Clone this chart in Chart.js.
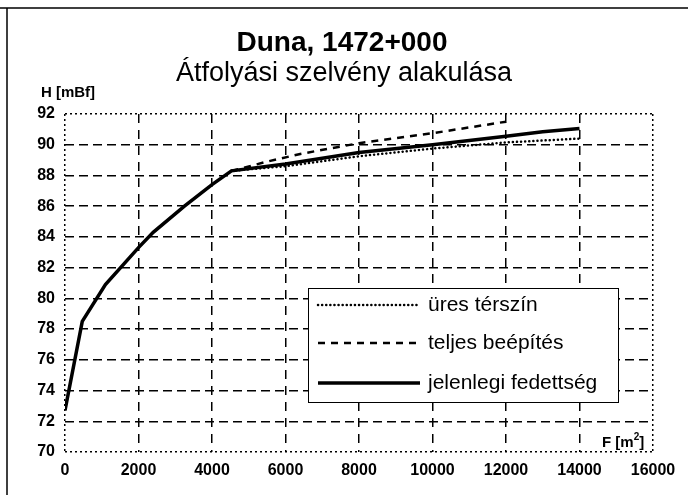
<!DOCTYPE html>
<html>
<head>
<meta charset="utf-8">
<script src="https://cdn.jsdelivr.net/npm/chart.js@4/dist/chart.umd.min.js"></script>
<style>
  html, body { margin: 0; padding: 0; background: #fff; }
  #wrap { position: relative; width: 688px; height: 495px; }
</style>
</head>
<body>
<div id="wrap"><canvas id="graf" width="688" height="495"></canvas></div>
<script>
// Adatok (F [m2] -> H [mBf])
const fJelenlegi = [0, 470, 1100, 2000, 2400, 3250, 4000, 4530, 6000, 8000, 10000, 12000, 13000, 14000]
const hJelenlegi = [72.7, 78.5, 80.9, 83.3, 84.3, 86.0, 87.4, 88.3, 88.75, 89.5, 90.0, 90.55, 90.85, 91.05]
const fUres = [4530, 6000, 8000, 10000, 12000, 14000]
const hUres = [88.3, 88.6, 89.25, 89.75, 90.15, 90.4]
const fTeljes = [4530, 5500, 6400, 8000, 10000, 12000]
const hTeljes = [88.3, 88.9, 89.4, 90.1, 90.75, 91.5]
const sorozatNevek = ["üres térszín", "teljes beépítés", "jelenlegi fedettség"]
const xTicks = [0, 2000, 4000, 6000, 8000, 10000, 12000, 14000, 16000]
const yTicks = [70, 72, 74, 76, 78, 80, 82, 84, 86, 88, 90, 92]

const FONT = "'Liberation Sans', Arial, sans-serif"

function pontok(xs, ys) {
    return xs.map((x, i) => ({ x: x, y: ys[i] }))
}

// Cimek, tengelyfeliratok, keret es jelmagyarazat
const rajzolo = {
    id: "rajzolo",
    afterDraw(chart) {
        const ctx = chart.ctx
        ctx.save()
        ctx.strokeStyle = "#000"
        ctx.lineWidth = 1.5
        ctx.beginPath()
        ctx.moveTo(0, 8); ctx.lineTo(688, 8)
        ctx.moveTo(7, 8); ctx.lineTo(7, 495)
        ctx.stroke()

        ctx.fillStyle = "#000"
        ctx.textAlign = "center"
        ctx.textBaseline = "middle"
        ctx.font = "bold 28px " + FONT
        ctx.fillText("Duna, 1472+000", 342, 43)
        ctx.font = "27px " + FONT
        ctx.fillText("Átfolyási szelvény alakulása", 344, 74)

        ctx.font = "bold 15px " + FONT
        ctx.fillText("H [mBf]", 68, 93)

        ctx.textAlign = "left"
        ctx.fillText("F [m", 602, 443)
        let w = ctx.measureText("F [m").width
        ctx.font = "bold 10px " + FONT
        ctx.fillText("2", 602 + w, 437)
        let w2 = ctx.measureText("2").width
        ctx.font = "bold 15px " + FONT
        ctx.fillText("]", 602 + w + w2, 443)

        // jelmagyarazat
        const lx = 308, ly = 288, lw = 310, lh = 114
        ctx.fillStyle = "#fff"
        ctx.fillRect(lx, ly, lw, lh)
        ctx.lineWidth = 1
        ctx.setLineDash([])
        ctx.strokeRect(lx + 0.5, ly + 0.5, lw, lh)
        const sorY = [305, 343, 383]
        chart.data.datasets.forEach((ds, i) => {
            ctx.save()
            ctx.strokeStyle = "#000"
            ctx.lineWidth = ds.borderWidth
            ctx.lineCap = ds.borderCapStyle || "butt"
            ctx.setLineDash(ds.borderDash || [])
            ctx.beginPath()
            ctx.moveTo(318, sorY[i])
            ctx.lineTo(420, sorY[i])
            ctx.stroke()
            ctx.restore()
            ctx.fillStyle = "#000"
            ctx.font = "21px " + FONT
            ctx.textBaseline = "middle"
            ctx.fillText(ds.label, 428, sorY[i])
        })
        ctx.restore()
    }
}

const config = {
    type: "line",
    data: {
        datasets: [{
            label: sorozatNevek[0],
            data: pontok(fUres, hUres),
            borderColor: "#000",
            borderWidth: 2.5,
            borderDash: [0.1, 4],
            borderCapStyle: "round",
        }, {
            label: sorozatNevek[1],
            data: pontok(fTeljes, hTeljes),
            borderColor: "#000",
            borderWidth: 2.5,
            borderDash: [7, 6],
        }, {
            label: sorozatNevek[2],
            data: pontok(fJelenlegi, hJelenlegi),
            borderColor: "#000",
            borderWidth: 3.5,
        }],
    },
    options: {
        responsive: false,
        animation: false,
        elements: { point: { radius: 0 }, line: { tension: 0 } },
        layout: { padding: { top: 114, right: 35, bottom: 0, left: 0 } },
        plugins: { legend: { display: false }, title: { display: false }, tooltip: { enabled: false } },
        scales: {
            x: {
                type: "linear",
                min: 0,
                max: 16000,
                afterBuildTicks: (scale) => { scale.ticks = xTicks.map(v => ({ value: v })) },
                afterFit: (scale) => { scale.height = 43 },
                ticks: {
                    color: "#000",
                    font: { family: FONT, size: 16, weight: "bold" },
                    padding: 9,
                    maxRotation: 0,
                    autoSkip: false,
                    callback: (v) => String(v),
                },
                grid: {
                    color: "#000",
                    lineWidth: 1.5,
                    drawTicks: false,
                },
                border: {
                    display: false,
                    dash: (ctx) => (ctx.index === 0 || ctx.index === xTicks.length - 1) ? [2, 3] : [9, 7],
                },
            },
            y: {
                min: 70,
                max: 92,
                afterBuildTicks: (scale) => { scale.ticks = yTicks.map(v => ({ value: v })) },
                afterFit: (scale) => { scale.width = 65 },
                ticks: {
                    color: "#000",
                    font: { family: FONT, size: 16, weight: "bold" },
                    padding: 10,
                    autoSkip: false,
                    callback: (v) => String(v),
                },
                grid: {
                    color: "#000",
                    lineWidth: 1.5,
                    drawTicks: false,
                },
                border: {
                    display: false,
                    dash: (ctx) => (ctx.index === 0 || ctx.index === yTicks.length - 1) ? [2, 3] : [9, 5],
                },
            },
        },
    },
    plugins: [rajzolo],
}

const graf = new Chart(document.querySelector("#graf"), config)
</script>
</body>
</html>
